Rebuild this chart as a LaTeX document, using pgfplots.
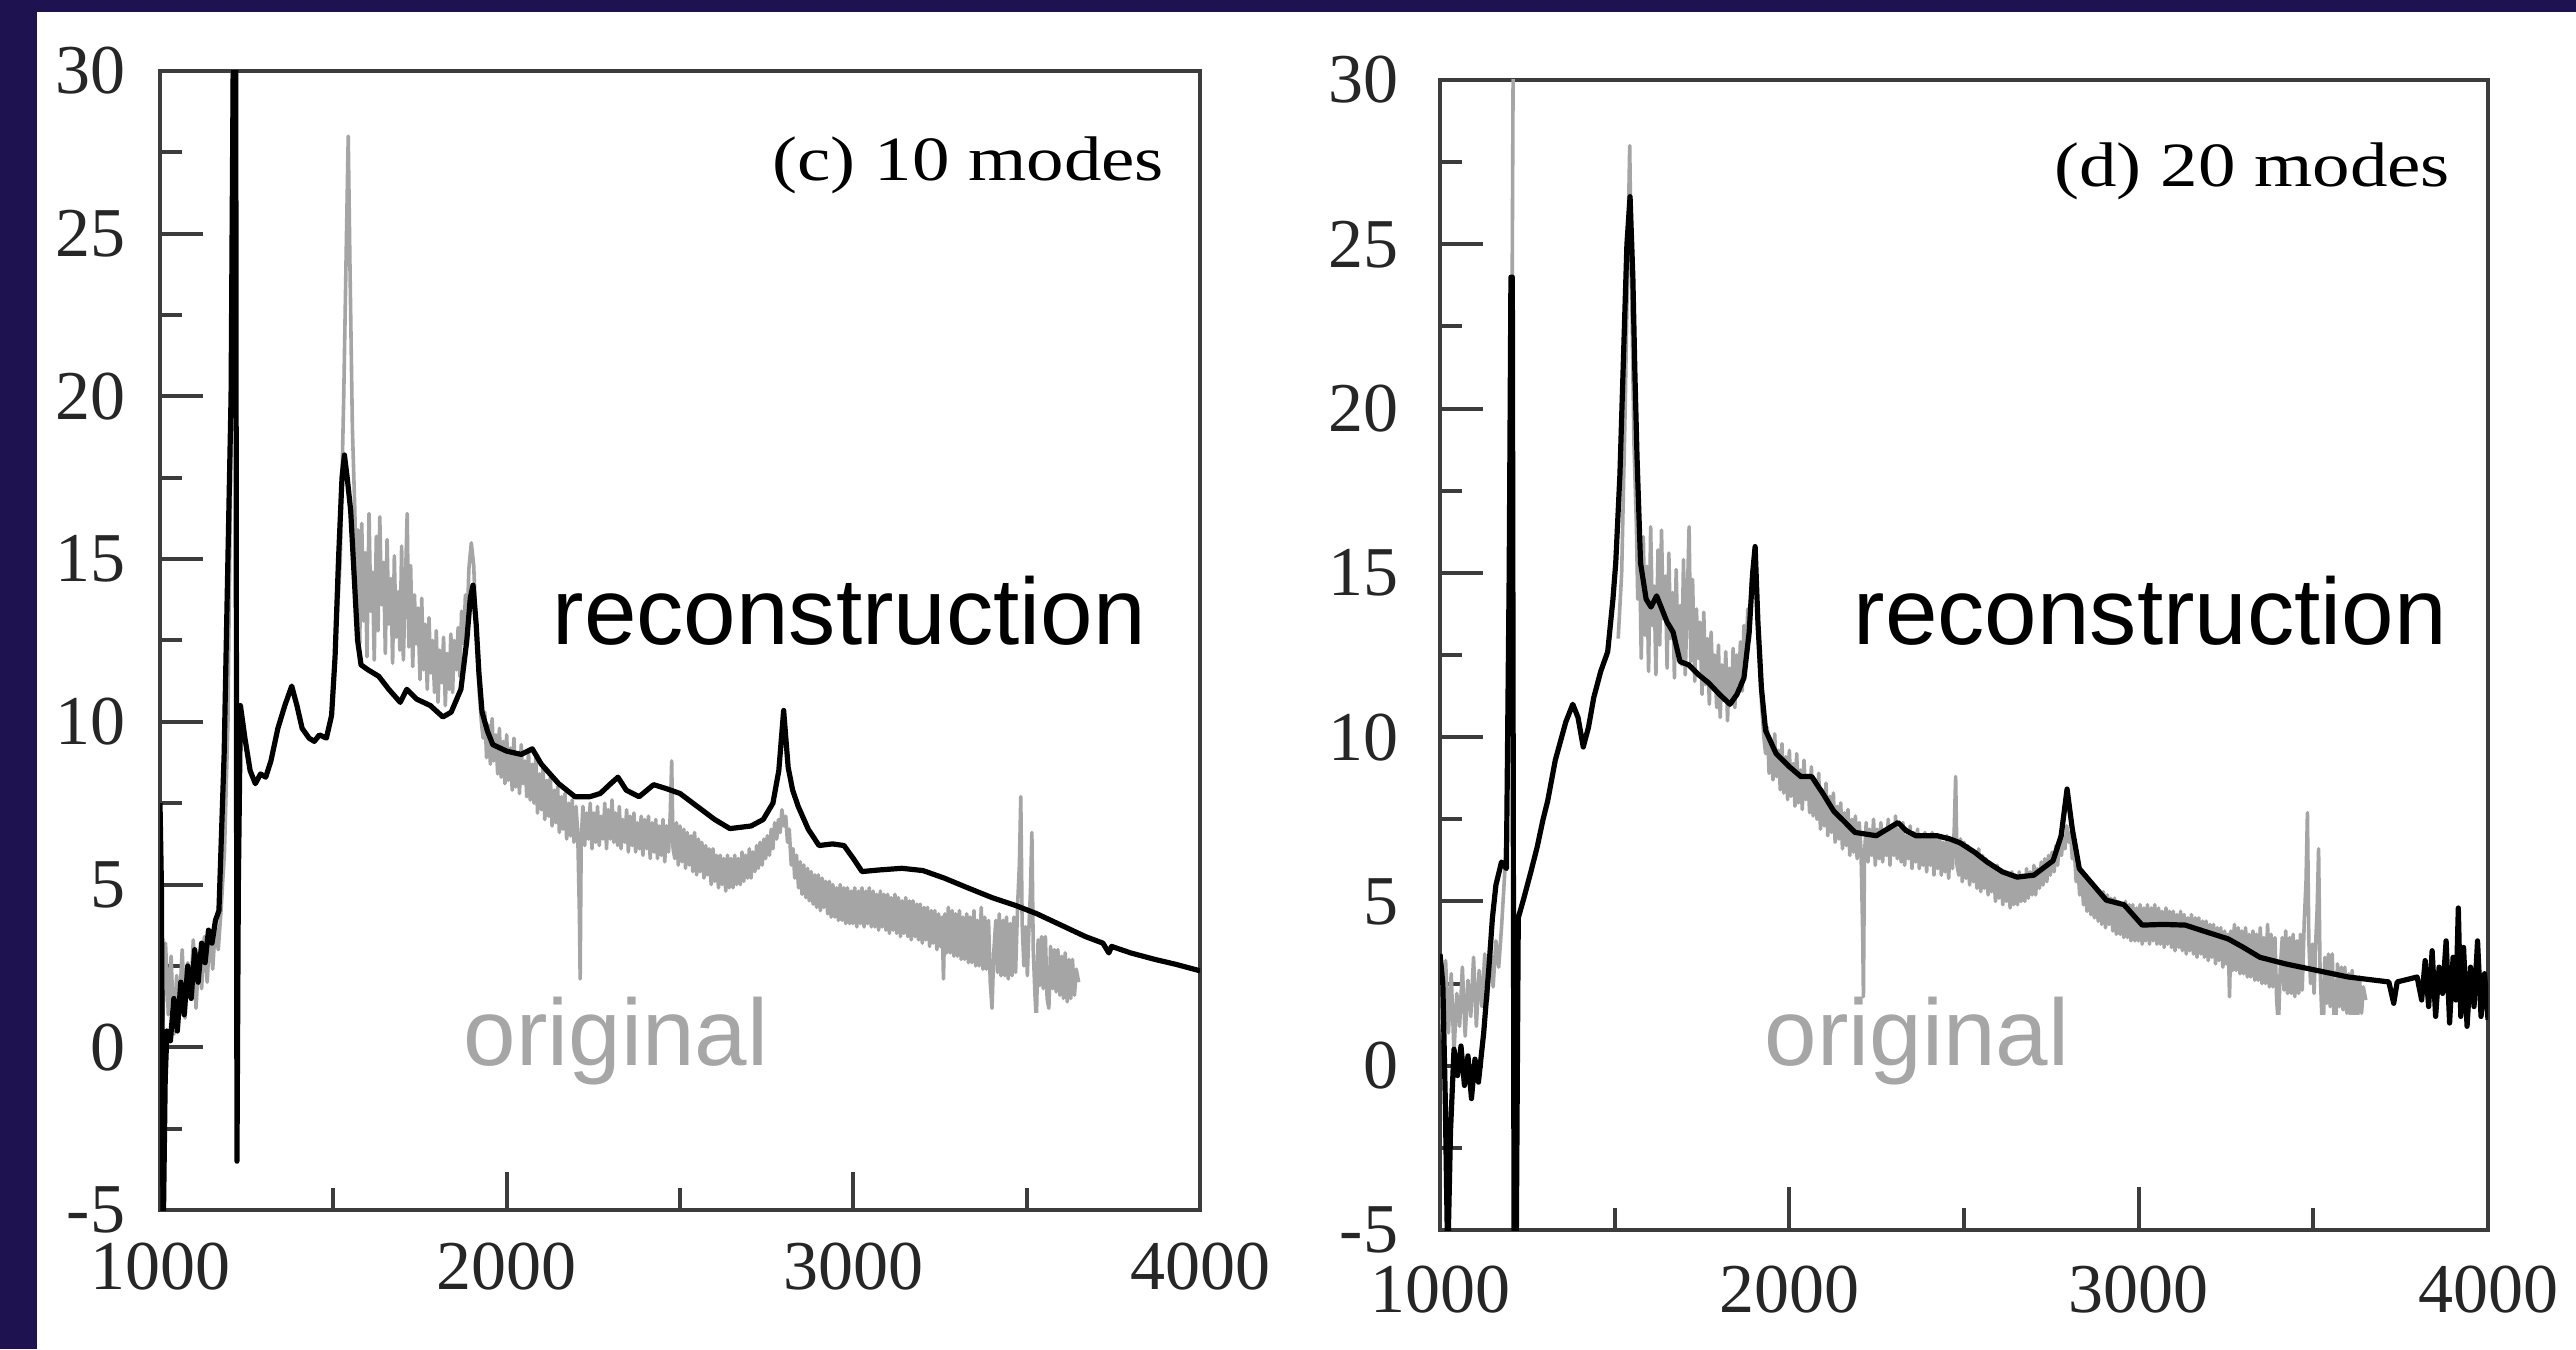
\documentclass[border=0pt]{standalone}
\usepackage{fontspec}
\setmainfont{Liberation Serif}
\newfontfamily\arialfont{Liberation Sans}
\usepackage{pgfplots}
\pgfplotsset{compat=1.18}
\definecolor{navy}{RGB}{30,18,80}
\definecolor{axcol}{RGB}{60,60,60}
\definecolor{origgray}{RGB}{165,165,165}
\definecolor{labgray}{RGB}{166,166,166}

\pgfplotsset{
  spec/.style={
    scale only axis,
    anchor=south west,
    xmin=1000, xmax=4000, ymin=-5, ymax=30,
    xtick={1000,2000,3000,4000},
    xticklabels={1000,2000,3000,4000},
    minor xtick={1500,2500,3500},
    ytick={-5,0,5,10,15,20,25,30},
    yticklabels={-5,0,5,10,15,20,25,30},
    minor ytick={-2.5,2.5,7.5,12.5,17.5,22.5,27.5},
    xtick pos=left, ytick pos=left,
    tick align=inside,
    major tick length=10.75pt,
    minor tick length=5.5pt,
    every tick/.style={axcol, line width=1pt},
    axis line style={axcol, line width=1.2pt},
    ticklabel style={font=\fontsize{17.5}{17.5}\selectfont, text=black!85, inner sep=0pt},
    xticklabel style={anchor=north},
    yticklabel style={anchor=east},
    unbounded coords=jump,
  },
  recon/.style={black, line width=1.3pt, line join=round},
  orig/.style={origgray, line width=0.9pt, line join=round},
}

\newcommand{\origdata}{
(1000,2.5)(1008,0.8)(1016,3.2)(1024,1.0)(1032,2.8)(1040,0.4)(1048,2.2)(1056,1.2)(1064,3.0)(1072,0.9)
(1080,2.6)(1088,1.5)(1096,3.3)(1104,1.2)(1112,2.9)(1120,1.8)(1128,3.4)(1136,2.0)(1144,3.6)(1152,2.4)
(1160,3.8)(1168,3.0)(1176,4.2)(1186,6)(1196,10)(1204,18)(1210,32)(1216,40)(1222,nan)
(1510,13)(1520,15)(1530,20)(1538,25)(1543,28)(1548,24)(1555,19)(1562,16.5)
(1566,14.2)(1571,15.9)(1576,12.4)(1582,16.1)(1587,13.1)(1592,15.2)(1597,12.0)(1603,16.4)(1608,13.4)(1613,14.6)
(1618,11.9)(1624,15.7)(1629,12.8)(1634,16.3)(1639,13.6)(1645,14.9)(1650,12.1)(1655,15.6)(1660,13.0)(1666,14.4)
(1671,11.8)(1676,15.1)(1681,12.6)(1687,14.0)(1692,12.2)(1697,15.4)(1702,11.9)(1708,14.3)(1713,16.4)(1718,12.3)
(1723,14.8)(1729,11.7)(1734,13.9)(1739,12.4)(1744,13.5)(1750,11.3)(1755,13.8)(1760,11.6)(1765,13.0)(1771,11.0)
(1776,13.2)(1781,11.5)(1786,12.5)(1792,10.9)(1797,12.8)(1802,10.6)(1807,12.2)(1813,11.2)(1818,12.6)(1823,10.5)
(1828,12.1)(1834,11.0)(1839,12.7)(1844,10.9)(1849,12.5)(1855,11.6)(1860,12.9)(1865,11.4)(1870,13.4)(1876,12.4)
(1881,13.9)(1886,13.0)(1891,14.7)(1898,15.5)(1905,14.8)(1911,13.1)(1916,12.0)(1921,10.9)(1927,10.0)(1932,9.5)
(1937,10.3)(1942,8.9)(1948,9.9)(1953,8.7)(1958,10.1)(1963,8.8)(1969,9.6)(1974,8.4)(1979,9.8)(1984,8.3)
(1990,9.4)(1995,8.1)(2000,9.6)(2005,8.2)(2011,9.2)(2016,7.9)(2021,9.5)(2026,8.0)(2032,9.0)(2037,7.8)
(2042,9.3)(2047,8.1)(2053,8.8)(2058,7.7)(2063,9.1)(2068,7.6)(2074,8.7)(2079,7.5)(2084,8.9)(2089,7.2)
(2095,8.4)(2100,7.3)(2105,8.6)(2110,7.0)(2116,8.2)(2121,7.1)(2126,8.3)(2131,6.8)(2137,7.9)(2142,6.9)
(2147,8.0)(2152,6.6)(2158,7.7)(2163,6.7)(2168,7.8)(2173,6.4)(2179,7.5)(2184,6.5)(2189,7.6)(2194,6.3)
(2200,7.4)(2205,6.6)(2210,4.0)(2212,2.1)(2215,6.4)(2220,7.4)(2225,6.2)(2230,7.2)(2236,6.4)(2241,7.5)
(2246,6.1)(2251,7.2)(2257,6.3)(2262,7.4)(2267,6.2)(2272,7.1)(2278,6.4)(2283,7.5)(2288,6.1)(2293,7.3)
(2299,6.4)(2304,7.6)(2309,6.3)(2314,7.2)(2320,6.2)(2325,7.4)(2330,6.1)(2335,7.0)(2341,6.3)(2346,7.3)
(2351,6.0)(2356,7.1)(2362,6.2)(2367,7.2)(2372,6.0)(2377,6.9)(2383,6.1)(2388,7.1)(2393,5.9)(2398,7.0)
(2404,6.1)(2409,7.1)(2414,5.8)(2419,6.9)(2425,6.0)(2430,7.0)(2435,5.8)(2440,6.8)(2446,5.9)(2451,7.0)
(2456,5.7)(2461,6.8)(2467,6.0)(2472,7.2)(2476,8.8)(2480,6.1)(2485,5.8)(2490,6.9)(2495,5.6)(2500,6.8)
(2506,5.7)(2511,6.7)(2516,5.5)(2521,6.6)(2527,5.6)(2532,6.5)(2537,5.4)(2542,6.6)(2548,5.3)(2553,6.4)
(2558,5.4)(2563,6.3)(2569,5.2)(2574,6.2)(2579,5.3)(2584,6.1)(2590,5.0)(2595,6.1)(2600,5.1)(2605,5.9)
(2611,4.9)(2616,5.9)(2621,5.0)(2626,5.8)(2632,4.8)(2637,5.9)(2642,4.9)(2647,5.8)(2653,4.9)(2658,5.9)
(2663,5.0)(2668,5.8)(2674,5.0)(2679,6.0)(2684,5.1)(2689,5.9)(2695,5.2)(2700,6.1)(2705,5.2)(2710,6.0)
(2716,5.4)(2721,6.2)(2726,5.5)(2731,6.3)(2737,5.6)(2742,6.4)(2747,5.8)(2752,6.5)(2758,5.9)(2763,6.7)
(2768,6.1)(2773,6.9)(2779,6.4)(2784,7.0)(2789,6.6)(2794,7.3)(2800,6.8)(2805,7.1)(2810,6.3)(2815,6.7)
(2821,5.6)(2826,6.1)(2831,5.2)(2836,5.9)(2842,4.9)(2847,5.7)(2852,4.7)(2857,5.6)(2863,4.6)(2868,5.5)
(2873,4.5)(2878,5.4)(2884,4.4)(2889,5.3)(2894,4.3)(2899,5.3)(2905,4.2)(2910,5.2)(2915,4.3)(2920,5.1)
(2926,4.1)(2931,5.1)(2936,4.0)(2941,5.0)(2947,4.0)(2952,4.9)(2957,3.9)(2962,5.0)(2968,3.9)(2973,4.9)
(2978,3.8)(2983,4.9)(2989,3.8)(2994,4.8)(2999,3.8)(3004,4.9)(3010,3.7)(3015,4.8)(3020,3.8)(3025,4.9)
(3031,3.7)(3036,4.8)(3041,3.8)(3046,4.9)(3052,3.7)(3057,4.8)(3062,3.7)(3067,4.7)(3073,3.6)(3078,4.8)
(3083,3.7)(3088,4.7)(3094,3.6)(3099,4.7)(3104,3.5)(3109,4.6)(3115,3.6)(3120,4.7)(3125,3.5)(3130,4.6)
(3136,3.4)(3141,4.5)(3146,3.5)(3151,4.6)(3157,3.4)(3162,4.5)(3167,3.3)(3172,4.5)(3178,3.4)(3183,4.4)
(3188,3.3)(3193,4.4)(3199,3.2)(3204,4.3)(3209,3.3)(3214,4.3)(3220,3.1)(3225,4.2)(3230,3.2)(3235,4.2)
(3241,3.0)(3246,4.1)(3251,3.1)(3256,4.0)(3260,2.1)(3264,4.1)(3269,2.9)(3274,4.3)(3279,2.9)(3285,4.2)
(3290,2.8)(3295,4.1)(3300,2.8)(3306,4.2)(3311,2.7)(3316,4.0)(3321,2.7)(3327,4.1)(3332,2.6)(3337,4.0)
(3342,2.6)(3348,4.2)(3353,2.5)(3358,3.9)(3363,2.5)(3369,4.3)(3374,2.4)(3379,4.0)(3384,2.4)(3390,3.9)
(3395,2.0)(3400,1.2)(3405,2.9)(3411,3.9)(3416,2.3)(3421,4.1)(3426,2.2)(3432,3.9)(3437,2.2)(3442,4.0)
(3447,2.1)(3453,3.8)(3458,2.2)(3463,4.0)(3468,2.3)(3474,4.4)(3479,5.6)(3483,7.7)(3487,3.8)(3492,2.5)
(3497,3.7)(3502,2.2)(3507,3.8)(3511,4.8)(3515,6.6)(3519,3.0)(3524,1.6)(3528,0.8)(3533,3.3)(3538,1.9)
(3543,3.4)(3548,1.8)(3554,3.4)(3559,1.5)(3564,1.2)(3569,3.1)(3575,1.8)(3580,3.0)(3585,1.7)(3590,3.0)
(3596,1.6)(3601,2.8)(3606,1.5)(3611,2.9)(3617,1.4)(3622,2.7)(3627,1.5)(3632,2.7)(3638,1.6)(3643,2.4)
(3650,2.0)
}

\begin{document}
\begin{tikzpicture}[x=0.25pt, y=0.25pt]
\useasboundingbox (0,0) rectangle (2576,1349);
\fill[navy] (0,0) rectangle (2576,1349);
\fill[white] (37,0) rectangle (2576,1337);

% ---------- panel (c) ----------
\begin{axis}[spec, at={(40pt,34.75pt)}, width=260pt, height=284.75pt,
  xticklabel style={yshift=-8pt}, yticklabel style={xshift=-8.5pt}]
\addplot[orig] coordinates {\origdata};
\addplot[recon] coordinates {
(1000,7.5)(1004,5)(1009,-6)(1015,-1)(1020,0.5)(1030,0.2)(1040,1.5)(1050,0.5)(1060,2)(1070,1.0)
(1080,2.5)(1090,1.5)(1100,3.0)(1110,2.0)(1120,3.2)(1130,2.6)(1140,3.6)(1150,3.2)(1160,3.9)(1170,4.2)
(1185,9)(1195,14.5)(1205,20)(1214,35)(1218,35)(1222,-3.5)(1226,5)(1232,10.5)(1245,9.5)(1260,8.5)
(1275,8.1)(1290,8.4)(1305,8.3)(1320,8.8)(1340,9.8)(1360,10.5)(1380,11.1)(1395,10.5)(1410,9.8)(1430,9.5)
(1445,9.4)(1460,9.6)(1480,9.5)(1495,10.2)(1505,12)(1515,15)(1525,17.5)(1532,18.2)(1540,17.5)(1550,16.5)
(1560,14.5)(1570,12.5)(1580,11.75)(1600,11.6)(1631,11.4)(1660,11.0)(1693,10.6)(1712,11.0)(1740,10.7)(1780,10.5)
(1816,10.15)(1840,10.3)(1868,11.0)(1885,12.5)(1895,13.8)(1903,14.2)(1912,13.0)(1920,11.5)(1929,10.3)(1945,9.7)
(1960,9.3)(2000,9.1)(2042,9.0)(2074,9.17)(2100,8.7)(2150,8.1)(2197,7.7)(2240,7.7)(2270,7.8)(2300,8.1)
(2321,8.3)(2345,7.9)(2382,7.7)(2424,8.07)(2460,7.95)(2500,7.8)(2550,7.4)(2600,7.0)(2644,6.72)(2705,6.8)
(2740,7.0)(2768,7.5)(2785,8.5)(2799,10.35)(2812,8.6)(2825,7.9)(2841,7.4)(2870,6.7)(2901,6.2)(2940,6.25)
(2973,6.2)(3000,5.8)(3025,5.4)(3076,5.45)(3140,5.5)(3201,5.43)(3262,5.2)(3330,4.9)(3400,4.6)(3470,4.35)
(3530,4.1)(3600,3.75)(3670,3.4)(3720,3.2)(3737,2.9)(3745,3.1)(3800,2.9)(3870,2.7)(3930,2.55)(4000,2.35)
};
\fill[white] (axis cs:1940,-3.83) rectangle (axis cs:3643,1.05);
\end{axis}

% ---------- panel (d) ----------
\begin{axis}[spec, at={(360pt,29.75pt)}, width=262pt, height=287.5pt,
  xticklabel style={yshift=-8.75pt}, yticklabel style={xshift=-10.25pt}]
\addplot[orig] coordinates {\origdata};
\addplot[recon] coordinates {
(1000,3.4)(1008,2.5)(1015,-1)(1022,-6)(1030,-2)(1040,0.5)(1050,-0.3)(1060,0.6)(1070,-0.6)(1080,0.3)
(1090,-1.0)(1100,0.2)(1110,-0.5)(1125,1.0)(1140,3.0)(1150,4.5)(1160,5.5)(1176,6.2)(1190,6.0)(1198,15)
(1203,24)(1207,24)(1212,-6)(1218,-6)(1224,4.5)(1240,5.1)(1260,5.9)(1278,6.65)(1295,7.5)(1308,8.05)
(1330,9.3)(1360,10.46)(1380,11.0)(1395,10.6)(1410,9.7)(1425,10.3)(1440,11.2)(1460,12.0)(1480,12.6)(1495,14.2)
(1503,15.3)(1515,18)(1525,21.5)(1535,25)(1544,26.45)(1552,24)(1558,21)(1564,18.5)(1574,15.3)(1590,14.2)
(1604,13.96)(1620,14.3)(1635,13.9)(1650,13.5)(1667,13.2)(1687,12.3)(1712,12.2)(1740,11.9)(1769,11.65)(1800,11.3)
(1830,11.0)(1850,11.3)(1870,11.8)(1885,13.2)(1895,15.0)(1902,15.8)(1910,13.5)(1920,11.5)(1932,10.2)(1962,9.5)
(2000,9.1)(2033,8.8)(2064,8.8)(2095,8.3)(2127,7.75)(2160,7.4)(2188,7.1)(2249,7.0)(2280,7.2)(2311,7.4)
(2335,7.15)(2362,7.0)(2423,7.0)(2460,6.9)(2489,6.78)(2530,6.5)(2566,6.2)(2610,5.9)(2652,5.74)(2700,5.8)
(2755,6.24)(2778,7.0)(2795,8.42)(2810,7.2)(2830,6.0)(2870,5.5)(2907,5.04)(2958,4.9)(3010,4.28)(3070,4.3)
(3133,4.28)(3200,4.05)(3256,3.86)(3300,3.6)(3347,3.3)(3420,3.1)(3510,2.9)(3600,2.7)(3716,2.55)(3730,1.9)
(3740,2.55)(3797,2.7)(3810,2.0)(3820,3.2)(3830,1.8)(3840,3.5)(3850,1.5)(3860,3.0)(3870,2.2)(3880,3.8)
(3890,1.3)(3900,3.3)(3908,2.0)(3915,4.8)(3922,1.5)(3930,3.6)(3940,1.2)(3950,3.0)(3960,1.8)(3970,3.8)
(3980,1.5)(3990,2.8)(4000,1.4)
};
\fill[white] (axis cs:1940,-1.9) rectangle (axis cs:3668,1.55);
\end{axis}

% ---------- annotations ----------
\node[anchor=base east, inner sep=0pt, xscale=1.19,
  font=\fontsize{15.75}{15.75}\selectfont, text=black] at (1165,1168) {(c) 10 modes};
\node[anchor=base east, inner sep=0pt, xscale=1.19,
  font=\fontsize{15.75}{15.75}\selectfont, text=black] at (2451,1162) {(d) 20 modes};

\node[anchor=base west, inner sep=0pt, font=\arialfont\fontsize{23.6}{23.6}\selectfont] at (552,704) {reconstruction};
\node[anchor=base west, inner sep=0pt, font=\arialfont\fontsize{23.6}{23.6}\selectfont] at (1853,704) {reconstruction};
\node[anchor=base west, inner sep=0pt, text=labgray, font=\arialfont\fontsize{23.6}{23.6}\selectfont] at (463,284) {original};
\node[anchor=base west, inner sep=0pt, text=labgray, font=\arialfont\fontsize{23.6}{23.6}\selectfont] at (1764,284) {original};
\end{tikzpicture}
\end{document}
